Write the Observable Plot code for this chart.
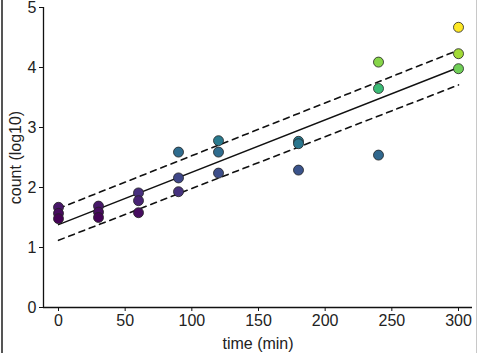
<!DOCTYPE html>
<html>
<head>
<meta charset="utf-8">
<script src="https://cdn.jsdelivr.net/npm/d3@7"></script>
<script src="https://cdn.jsdelivr.net/npm/@observablehq/plot@0.6"></script>
<style>
  html, body { margin: 0; padding: 0; background: #fff; }
  #wrap { position: relative; width: 480px; height: 353px; overflow: hidden; }
  #lb { position: absolute; left: 1px; top: 0; width: 2px; height: 353px; background: #555; }
  #rb { position: absolute; left: 476px; top: 0; width: 1px; height: 353px; background: #c8c8c8; }
</style>
</head>
<body>
<div id="wrap"><div id="chart"></div><div id="lb"></div><div id="rb"></div></div>
<script>
// Observations (time in minutes, count in log10)
const times  = [0, 0, 0, 30, 30, 30, 60, 60, 60, 90, 90, 90, 120, 120, 120, 180, 180, 180, 240, 240, 240, 300, 300, 300];
const counts = [1.67, 1.57, 1.48, 1.69, 1.59, 1.50, 1.91, 1.78, 1.58, 2.59, 2.16, 1.93, 2.78, 2.59, 2.24, 2.77, 2.73, 2.29, 4.09, 3.65, 2.54, 4.67, 4.23, 3.98];

// Fitted line and band (endpoints)
const fitTimes = [0, 300];
const fitMid   = [1.38, 4.00];
const fitUpper = [1.65, 4.29];
const fitLower = [1.12, 3.71];

const xTicks = [0, 50, 100, 150, 200, 250, 300];
const yTicks = [0, 1, 2, 3, 4, 5];

const points = times.map((t, i) => ({t, v: counts[i]}));
const mid = fitTimes.map((t, i) => ({t, v: fitMid[i]}));
const up = fitTimes.map((t, i) => ({t, v: fitUpper[i]}));
const lo = fitTimes.map((t, i) => ({t, v: fitLower[i]}));

const xMin = -11.25, xMax = 310.5;

const chart = Plot.plot({
  width: 480,
  height: 353,
  marginLeft: 43,
  marginRight: 8,
  marginTop: 7,
  marginBottom: 46,
  style: {fontFamily: "'Liberation Sans', Arial, sans-serif", fontSize: "16px", background: "transparent"},
  x: {domain: [xMin, xMax]},
  y: {domain: [0, 5]},
  color: {type: "linear", scheme: "viridis", domain: [d3.min(counts), d3.max(counts)]},
  marks: [
    Plot.ruleX([xMin], {stroke: "#111", strokeWidth: 1.3}),
    Plot.ruleY([0], {stroke: "#111", strokeWidth: 1.3}),
    Plot.axisX({ticks: xTicks, tickFormat: d3.format("d"), tickSize: 4, tickPadding: 3, stroke: "#111", fill: "#222", fontSize: 16,
      label: "time (min)", labelAnchor: "center", labelArrow: "none", labelOffset: 41}),
    Plot.axisY({ticks: yTicks, tickFormat: d3.format("d"), tickSize: 4, tickPadding: 3, stroke: "#111", fill: "#222", fontSize: 16,
      label: "count (log10)", labelAnchor: "center", labelArrow: "none", labelOffset: 34}),
    Plot.line(up, {x: "t", y: "v", stroke: "#111", strokeWidth: 1.6, strokeDasharray: "6,5"}),
    Plot.line(lo, {x: "t", y: "v", stroke: "#111", strokeWidth: 1.6, strokeDasharray: "6,5"}),
    Plot.line(mid, {x: "t", y: "v", stroke: "#111", strokeWidth: 1.4}),
    Plot.dot(points, {x: "t", y: "v", r: 5, fill: "v", stroke: "#222", strokeWidth: 0.8})
  ]
});
document.getElementById("chart").appendChild(chart);
</script>
</body>
</html>
